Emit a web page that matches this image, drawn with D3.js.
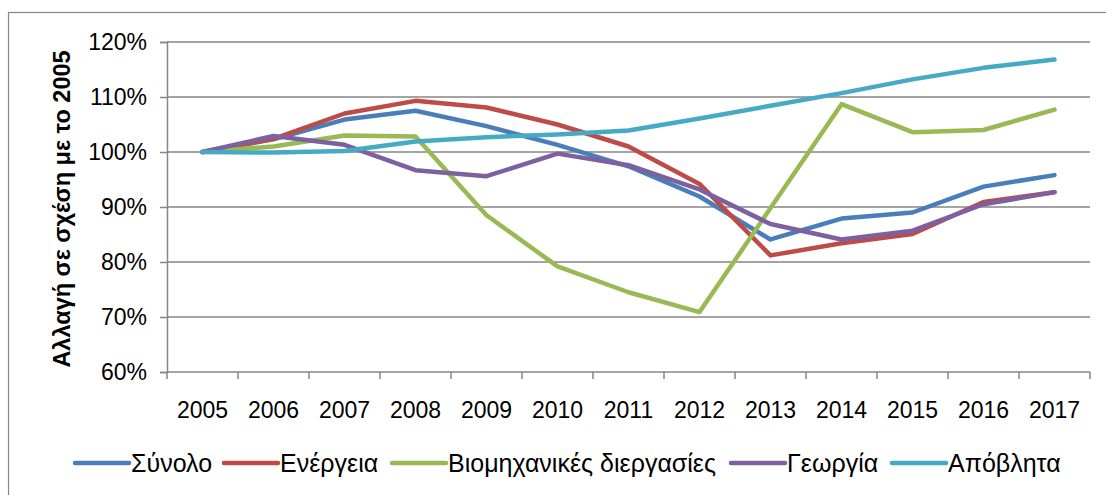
<!DOCTYPE html>
<html>
<head>
<meta charset="utf-8">
<script src="https://cdn.jsdelivr.net/npm/d3@7"></script>
<style>
  body { margin: 0; background: #fff; }
  svg { display: block; font-family: "Liberation Sans", Arial, sans-serif; }
</style>
</head>
<body>
<svg id="chart" width="1106" height="495"></svg>
<script>
// Emissions change vs 2005, by sector (values in %)
const years = ["2005", "2006", "2007", "2008", "2009", "2010", "2011", "2012", "2013", "2014", "2015", "2016", "2017"];
const yTicks = [60, 70, 80, 90, 100, 110, 120];

const total = [100, 102.3, 105.9, 107.5, 104.7, 101.3, 97.4, 91.9, 84.1, 87.9, 89.0, 93.7, 95.8];
const energy = [100, 102.4, 107.0, 109.3, 108.1, 105.0, 101.0, 94.2, 81.2, 83.4, 85.1, 90.9, 92.7];
const industry = [100, 101.0, 103.0, 102.8, 88.5, 79.2, 74.5, 70.9, 89.8, 108.7, 103.6, 104.0, 107.7];
const agriculture = [100, 102.9, 101.3, 96.7, 95.6, 99.7, 97.6, 93.2, 86.9, 84.1, 85.7, 90.5, 92.7];
const waste = [100, 99.9, 100.2, 101.9, 102.7, 103.2, 103.9, 106.1, 108.4, 110.7, 113.2, 115.3, 116.8];

const series = [
    { name: "Σύνολο", color: "#4A7EBB", values: total },
    { name: "Ενέργεια", color: "#BE4B48", values: energy },
    { name: "Βιομηχανικές διεργασίες", color: "#98B954", values: industry },
    { name: "Γεωργία", color: "#7D60A0", values: agriculture },
    { name: "Απόβλητα", color: "#46AAC5", values: waste }
];

const svg = d3.select("#chart");
const plot = { left: 167, right: 1090, top: 42, bottom: 372 };
const grey = "#868686";

// outer chart-area border (runs off the right/bottom edge like the original)
svg.append("rect")
    .attr("x", 8.5).attr("y", 12.5)
    .attr("width", 1200).attr("height", 600)
    .attr("fill", "none").attr("stroke", grey).attr("stroke-width", 1.2);

const x = d3.scaleBand().domain(years).range([plot.left, plot.right]);
const y = d3.scaleLinear().domain([60, 120]).range([plot.bottom, plot.top]);

// horizontal gridlines
svg.append("g")
    .selectAll("line")
    .data(yTicks.filter(d => d > 60))
    .join("line")
    .attr("x1", plot.left).attr("x2", plot.right)
    .attr("y1", d => y(d)).attr("y2", d => y(d))
    .attr("stroke", grey).attr("stroke-width", 1.5);

// y axis
const yAxis = svg.append("g")
    .attr("transform", `translate(${plot.left},0)`)
    .call(d3.axisLeft(y).tickValues(yTicks).tickFormat(d => d + "%").tickSize(7).tickPadding(13));
yAxis.select(".domain").attr("stroke", grey).attr("stroke-width", 1.5);
yAxis.selectAll(".tick line").attr("stroke", grey).attr("stroke-width", 1.5);
yAxis.selectAll("text").attr("font-size", 23).attr("fill", "#000").attr("font-family", "Liberation Sans");

// x axis with ticks between categories
const xAxis = svg.append("g").attr("transform", `translate(0,${plot.bottom})`);
xAxis.append("line")
    .attr("x1", plot.left).attr("x2", plot.right)
    .attr("stroke", grey).attr("stroke-width", 1.5);
xAxis.selectAll("line.tk")
    .data(d3.range(years.length + 1))
    .join("line")
    .attr("class", "tk")
    .attr("x1", i => plot.left + i * x.step()).attr("x2", i => plot.left + i * x.step())
    .attr("y1", 0).attr("y2", 7)
    .attr("stroke", grey).attr("stroke-width", 1.5);
xAxis.selectAll("text")
    .data(years)
    .join("text")
    .attr("x", d => x(d) + x.bandwidth() / 2)
    .attr("y", 46)
    .attr("text-anchor", "middle")
    .attr("font-size", 23)
    .text(d => d);

// y axis title
svg.append("text")
    .attr("transform", `translate(70,${(plot.top + plot.bottom) / 2 + 2}) rotate(-90)`)
    .attr("text-anchor", "middle")
    .attr("font-size", 23.5)
    .attr("font-weight", "bold")
    .text("Αλλαγή σε σχέση με το 2005");

// series lines
const line = d3.line()
    .x((d, i) => x(years[i]) + x.bandwidth() / 2)
    .y(d => y(d));

svg.append("g")
    .selectAll("path")
    .data(series)
    .join("path")
    .attr("d", d => line(d.values))
    .attr("fill", "none")
    .attr("stroke", d => d.color)
    .attr("stroke-width", 4.5)
    .attr("stroke-linejoin", "round")
    .attr("stroke-linecap", "round");

// legend
const legendX = [75, 224, 392, 731, 892];
const legend = svg.append("g").attr("transform", "translate(0,463)");
const item = legend.selectAll("g")
    .data(series)
    .join("g")
    .attr("transform", (d, i) => `translate(${legendX[i]},0)`);
item.append("line")
    .attr("x1", 0).attr("x2", 54)
    .attr("stroke", d => d.color)
    .attr("stroke-width", 4.5)
    .attr("stroke-linecap", "round");
item.append("text")
    .attr("x", 56)
    .attr("y", 9)
    .attr("font-size", 25)
    .text(d => d.name);
</script>
</body>
</html>
